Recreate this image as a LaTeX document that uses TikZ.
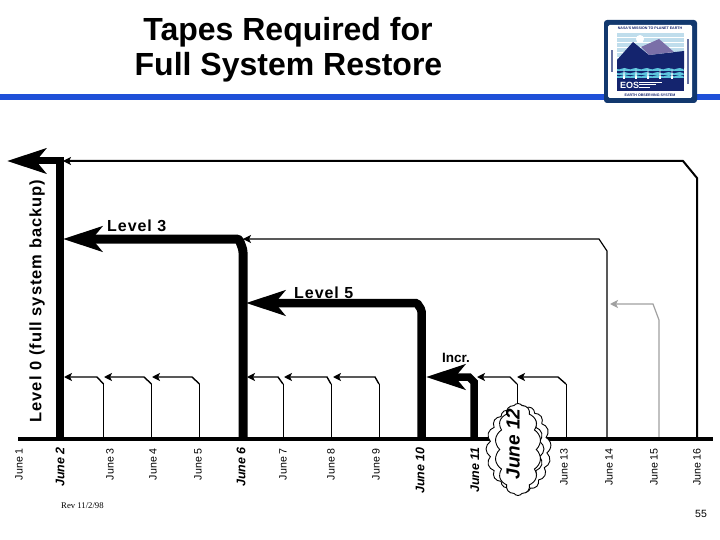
\documentclass[tikz,border=0pt]{standalone}
\usepackage{fontspec}
\setmainfont{Liberation Sans}
\newfontfamily\serifrev{Liberation Serif}
\usetikzlibrary{arrows.meta,shapes.symbols}
\definecolor{eosnavy}{HTML}{14246E}
\definecolor{eosframe}{HTML}{12386E}
\definecolor{eospurple}{HTML}{7A6FA8}
\definecolor{eossky}{HTML}{BFDDEC}
\definecolor{eoscyan}{HTML}{5CC4DC}
\definecolor{barblue}{HTML}{1F50D8}
\definecolor{greyline}{HTML}{A0A0A0}
\tikzset{
 bigarrow/.style={line width=#1,-{Stealth[length=39pt,width=25pt,inset=10pt]},line join=miter},
 smallarrow/.style={line width=#1,-{Stealth[length=8pt,width=8pt,inset=2pt]}},
 dateplain/.style={rotate=90,anchor=east,inner sep=0pt,font=\fontsize{10.6}{12}\selectfont},
 datekey/.style={rotate=90,anchor=east,inner sep=0pt,font=\fontsize{12.5}{14}\selectfont\bfseries\itshape},
 lvl/.style={inner sep=0pt,anchor=base west,font=\fontsize{16}{18}\selectfont\addfontfeatures{LetterSpace=6}\bfseries},
 tinylogo/.style={inner sep=0pt,text=eosnavy,font=\fontsize{3.6}{4}\selectfont\bfseries},
 puffs/.style={draw,fill=white,line width=.9pt,shape=cloud,cloud ignores aspect,inner sep=0pt},
}
\begin{document}
\begin{tikzpicture}[x=1pt,y=-1pt]
\useasboundingbox (0,0) rectangle (720,540);
\fill[white] (0,0) rectangle (720,540);
% title and header rule
\fill[barblue] (0,94) rectangle (720,100);
\node[inner sep=0pt,anchor=base,font=\fontsize{32}{34}\selectfont\bfseries] (t1) at (288,41) {Tapes Required for};
\node[inner sep=0pt,anchor=base,font=\fontsize{32}{34}\selectfont\bfseries] (t2) at (288.5,76) {Full System Restore};
% logo
\fill[eosframe,rounded corners=3pt] (604,20) rectangle (697,103);
\fill[white,rounded corners=1.5pt] (608,25) rectangle (692,98);
\fill[eossky] (617,33) rectangle (684,68);
\foreach \yy in {37,42,47,52,57}{\fill[white] (617,\yy) rectangle (684,\yy+1.5);}
\fill[white] (640,39) circle (4);
\fill[eosnavy] (617,60) -- (633,42) -- (649,55) -- (684,51) -- (684,68) -- (617,68) -- cycle;
\fill[eospurple] (641,47) -- (659,39) -- (674,52) -- (649,55) -- cycle;
\fill[eosnavy] (617,68) rectangle (684,91);
\foreach \yy/\cc in {69/eoscyan,73/eoscyan,76/eoscyan}{
 \fill[\cc] (617,\yy) \foreach \k in {0,...,5}{ .. controls (620+\k*11,\yy+2) and (623+\k*11,\yy-3) .. (628.2+\k*11,\yy) } -- (684,\yy+2) -- (617,\yy+2) -- cycle;}
\foreach \xx in {624,636,648,660,672}{\fill[white] (\xx,68) -- (\xx+1,79) -- (\xx-1,79) -- cycle;}
\node[inner sep=0pt,text=white,anchor=west,font=\fontsize{9}{10}\selectfont\bfseries] (eos) at (620,85) {EOS};
\fill[white] (639,82) rectangle (662,82.7);
\fill[white] (639,84.5) rectangle (656,85.2);
\fill[white] (639,87) rectangle (650,87.7);
\node[tinylogo] (lt) at (650,28) {NASA'S MISSION TO PLANET EARTH};
\node[tinylogo] (lb) at (650,95) {EARTH OBSERVING SYSTEM};
\fill[eosnavy!65] (611,50) rectangle (613,72);
\fill[eosnavy!65] (687,39) rectangle (689,84);
% named points
\foreach \n/\xx in {a/60,b/103.5,c/151.5,d/199.5,e/243,f/283,g/331,h/379,i/421.5,j/474,k/517,l/566,m/607,n/659,o/697}{\coordinate (base\n) at (\xx,439);}
\coordinate (tip0) at (7,161); \coordinate (tip3) at (63,239); \coordinate (tip5) at (246,303); \coordinate (tipI) at (426,377);
% thin connectors (behind)
\draw[smallarrow=2pt] (baseo) -- (697,178) -- (683,161) -- (63,161);
\draw[smallarrow=1.2pt] (basem) -- (607,251) -- (599,239) -- (243,239);
\draw[smallarrow=1.2pt,greyline] (basen) -- (659,320) -- (653,304) -- (610,304);
\foreach \s/\xx/\cx/\tx in {b/103.5/97/64,c/151.5/144/104,d/199.5/192/152,f/283/278/247,g/331/327/284,h/379/375/333,k/517/510/477,l/566/558/517}{
 \draw[line width=.9pt] (base\s) -- (\xx,384);
 \draw[smallarrow=1.4pt] (\xx,384) -- (\cx,377) -- (\tx,377);}
% thick connectors
\draw[line width=7.5pt] (60,439) -- (60,157.5);
\draw[bigarrow=7pt] (63.5,161) -- (tip0);
\draw[bigarrow=9pt,rounded corners=2.5pt] (basee) -- (243,250) -- (239,239) -- (tip3);
\draw[bigarrow=8.5pt,rounded corners=1.5pt] (basei) -- (421.5,310) -- (417,303) -- (tip5);
\draw[bigarrow=7.5pt] (basej) -- (474,382) -- (469,377) -- (tipI);
\draw[line width=4pt] (18,439) -- (713,439);
% cloud
\node[puffs,cloud puffs=17,cloud puff arc=120,minimum width=60pt,minimum height=88pt] (cloudr) at (521,449) {};
\node[puffs,cloud puffs=16,cloud puff arc=120,minimum width=58pt,minimum height=82pt] (cloudl) at (515,449) {};
\node[puffs,cloud puffs=14,cloud puff arc=110,minimum width=46pt,minimum height=92pt] (cloudf) at (518,449.5) {};
\node[rotate=90,inner sep=0pt,font=\fontsize{19}{20}\selectfont\bfseries\itshape] (j12) at (513,444) {June 12};
% labels
\node[rotate=90,inner sep=0pt,font=\fontsize{16.5}{18}\selectfont\addfontfeatures{LetterSpace=6}\bfseries] (l0) at (37,301) {Level 0 (full system backup)};
\node[lvl] (l3) at (107,232) {Level 3};
\node[lvl] (l5) at (294,298) {Level 5};
\node[inner sep=0pt,font=\fontsize{13.5}{14}\selectfont\bfseries] (lI) at (456,357.5) {Incr.};
\foreach \n/\xx/\t in {1/19/June 1,3/110/June 3,4/153/June 4,5/198/June 5,7/283/June 7,8/331/June 8,9/376/June 9,13/564/June 13,14/609/June 14,15/654/June 15,16/697/June 16}{
 \node[dateplain] (dd\n) at (\xx,448) {\t};}
\foreach \n/\xx/\t in {2/60/June 2,6/241/June 6,10/420/June 10,11/475/June 11}{
 \node[datekey] (dd\n) at (\xx,447) {\t};}
\node[inner sep=0pt,anchor=west,font=\fontsize{8.7}{9}\selectfont\serifrev] (rev) at (61,506) {Rev 11/2/98};
\node[inner sep=0pt,font=\fontsize{10.5}{12}\selectfont] (pg) at (701,514) {55};
\end{tikzpicture}
\end{document}
